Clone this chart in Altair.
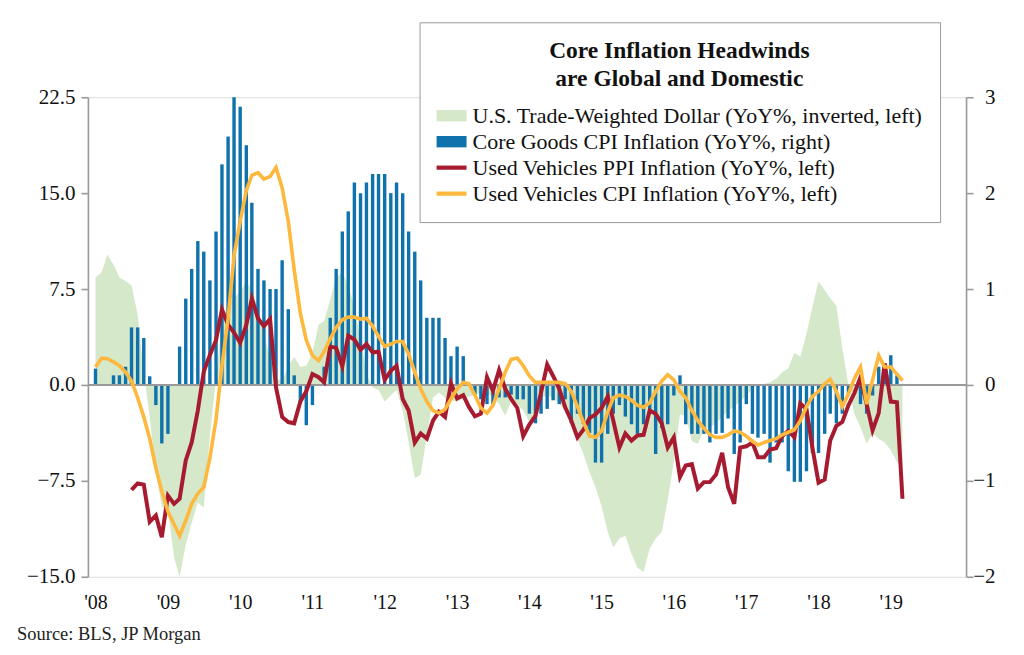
import altair as alt
import pandas as pd

# ---------------- data (monthly, Jan 2008 .. Mar 2019) ----------------
start_month = "2008-01-01"
n_months = 135

series_names = [
    "U.S. Trade-Weighted Dollar (YoY%, inverted, left)",
    "Core Goods CPI Inflation (YoY%, right)",
    "Used Vehicles PPI Inflation (YoY%, left)",
    "Used Vehicles CPI Inflation (YoY%, left)",
]
series_colors = ["#d5e8ca", "#0f72ad", "#a61b2f", "#fdb83d"]

left_ticks = [-15, -7.5, 0, 7.5, 15, 22.5]
right_ticks = [-2, -1, 0, 1, 2, 3]
year_ticks = list(range(2008, 2020))

core_goods = [
    0.17, 0.0, 0.0, 0.10, 0.10, 0.19, 0.60, 0.60, 0.49, 0.09, -0.21, -0.61,
    -0.51, 0.0, 0.40, 0.90, 1.21, 1.50, 1.39, 1.09, 1.60, 2.30, 2.59, 3.00,
    2.90, 2.50, 1.90, 1.21, 1.09, 1.00, 1.00, 1.30, 0.79, 0.10, -0.20, -0.42,
    -0.21, 0.0, 0.19, 0.70, 1.21, 1.60, 1.81, 2.11, 2.00, 2.11, 2.20, 2.20,
    2.20, 2.00, 2.11, 2.00, 1.60, 1.39, 1.09, 0.70, 0.70, 0.70, 0.49, 0.30,
    0.40, 0.30, 0.0, -0.10, -0.15, -0.20, -0.20, -0.13, -0.13, -0.10, -0.15, -0.15,
    -0.30, -0.40, -0.30, -0.25, -0.16, -0.20, -0.15, -0.40, -0.30, -0.41, -0.50, -0.81,
    -0.81, -0.51, -0.30, -0.21, -0.33, -0.41, -0.51, -0.41, -0.30, -0.72, -0.45, -0.41,
    -0.11, 0.10, -0.41, -0.51, -0.51, -0.51, -0.60, -0.51, -0.50, -0.35, -0.72, -0.60,
    -0.20, -0.51, -0.55, -0.51, -0.81, -0.60, -0.60, -0.90, -1.01, -1.01, -0.90, -0.71,
    -0.71, -0.51, -0.30, -0.40, -0.30, -0.09, 0.0, -0.20, -0.30, -0.11, 0.19, 0.19,
    0.31, 0.10, None,
]

dollar_inverted = [
    8.4, 8.8, 10.2, 9.4, 8.4, 8.1, 7.8, 5.5, 1.0, -2.5, -6.9, -9.5,
    -9.8, -13.5, -15.0, -12.5, -10.8, -9.2, -9.6, -4.0, 0.5, 5.0, 6.3, 6.8,
    7.3, 8.1, 7.5, 6.0, 4.0, 2.0, 0.5, 0.3, 1.5, 2.2, 1.4, 1.5,
    2.5, 4.7, 5.0, 6.7, 8.4, 8.8, 7.8, 6.1, 3.5, 0.9, -0.2, -0.4,
    -1.3, -0.8, -0.4, -2.0, -4.5, -7.3, -7.0, -4.0, -1.0, -0.6, -1.0, -1.2,
    -1.3, -1.1, -0.9, -0.8, -0.6, -0.7, -0.9, -1.5, -2.4, -1.3, -1.5, -2.0,
    -2.9, -2.0, -1.0, -0.8, -1.0, -1.5, -2.0, -3.0, -4.2, -5.4, -6.8, -8.0,
    -9.5, -11.5, -12.7, -12.0, -11.8, -13.2, -14.3, -14.6, -12.8, -12.0, -11.5, -9.0,
    -6.0, -2.3, -2.4, -4.4, -4.6, -3.5, -3.3, -3.0, -2.5, -2.0, -1.7, -1.3,
    -0.8, -0.3, 0.0, 0.1, 0.2, 0.5, 1.0, 1.3, 2.5, 2.2, 4.0, 6.1,
    8.1, 7.4, 6.8, 6.2, 2.9, 0.0, -2.3, -3.3, -4.6, -3.8, -4.2, -4.5,
    -5.1, -6.0, -6.4,
]

used_ppi = [
    None, None, None, None, None, None, -8.2, -7.7, -7.8, -10.7, -10.2, -11.9,
    -8.65, -9.3, -8.9, -5.9, -4.5, -2.0, 1.05, 2.35, 3.5, 5.9, 4.7, 4.1,
    3.3, 4.7, 6.75, 5.2, 4.6, 5.15, -0.2, -2.5, -2.9, -3.0, -1.3, -0.5,
    0.85, 0.6, 0.2, 3.0, 2.9, 1.45, 3.85, 3.55, 2.75, 3.2, 2.55, 2.6,
    0.4, 1.1, 1.5, -1.1, -2.0, -4.5, -3.8, -4.2, -2.8, -2.1, -2.5, 0.1,
    -1.05, -0.8, -1.7, -2.45, -2.25, 0.6, -0.45, 1.15, -0.3, -1.1, -1.8, -4.0,
    -3.1, -2.4, -0.6, 1.6, 0.7, -0.3, -1.75, -2.8, -4.1, -3.5, -2.6, -2.3,
    -1.8, -0.9, -2.8, -4.9, -3.8, -4.35, -3.95, -3.9, -2.0, -2.25, -3.0, -4.9,
    -4.1, -7.2, -6.3, -6.2, -8.1, -7.6, -7.6, -7.0, -5.3, -8.0, -9.3, -4.9,
    -4.8, -4.5, -5.65, -5.65, -5.05, -4.95, -4.0, -3.6, -4.1, -1.45, -1.9, -4.9,
    -7.65, -7.4, -4.35, -3.2, -2.9, -1.6, -0.65, 0.6, -1.5, -3.55, -2.2, 1.7,
    -1.3, -1.35, -8.9,
]

used_cpi = [
    1.4, 2.1, 2.05, 1.8, 1.5, 1.0, 0.3, -1.0, -2.5, -4.2, -6.5, -8.3,
    -9.9, -10.9, -11.8, -10.6, -9.3, -8.5, -8.0, -5.7, -2.7, 1.5, 5.2, 10.1,
    12.8, 15.2, 16.4, 16.6, 16.1, 16.3, 17.0, 15.4, 12.8, 9.0, 5.6, 3.5,
    2.3, 1.9, 2.6, 3.6, 4.5, 5.1, 5.3, 5.3, 5.15, 5.2, 4.6, 3.8,
    3.0, 3.2, 3.4, 3.4, 2.4, 1.0, -0.3, -1.3, -2.0, -2.2, -1.9, -1.1,
    -0.3, 0.2, 0.1, -0.8, -1.8, -2.2, -1.6, -0.3, 1.0, 2.0, 2.1, 1.5,
    0.7, 0.2, 0.2, 0.2, 0.2, 0.2, 0.1, -0.5, -1.7, -2.9, -4.0, -4.1,
    -3.6, -2.1, -1.0, -0.8, -0.9, -1.2, -1.6, -1.75, -1.4, -0.5, 0.3, 0.8,
    0.4, -0.5, -1.0, -2.0, -2.8, -3.4, -3.9, -4.1, -4.1, -3.9, -3.6, -3.7,
    -4.0, -4.4, -4.7, -4.5, -4.35, -4.2, -3.9, -3.7, -3.5, -2.8, -1.7, -0.9,
    -0.5, 0.1, 0.45, -0.5, -1.7, -0.7, 0.5, 1.4, -1.5, 0.4, 2.3, 1.4,
    1.4, 0.85, 0.35,
]

source_text = "Source:  BLS, JP Morgan"
legend_title = ["Core Inflation Headwinds", "are Global and Domestic"]

df = pd.DataFrame({
    "date": pd.date_range(start_month, periods=n_months, freq="MS"),
    "dollar": dollar_inverted,
    "core": core_goods,
    "ppi": used_ppi,
    "cpi": used_cpi,
})
zero_df = pd.DataFrame({"zero": [0]})

# ---------------- styling ----------------
FONT = "Liberation Serif"
AXIS_GRAY = "#9a9a9a"
LEFT_DOMAIN = [-15, 22.5]
RIGHT_DOMAIN = [-2, 3]

x_enc = alt.X(
    "date:T",
    title=None,
    scale=alt.Scale(domain=[alt.DateTime(year=2007, month=12, date=19),
                            alt.DateTime(year=2019, month=12, date=22)]),
    axis=alt.Axis(
        values=[alt.DateTime(year=y, month=1, date=1) for y in year_ticks],
        format="'%y", domain=False, ticks=False, grid=False,
        labelFont=FONT, labelFontSize=20, labelColor="#111",
        labelPadding=16,
    ),
)

def left_scale():
    return alt.Scale(domain=LEFT_DOMAIN, nice=False, zero=False)

base = alt.Chart(df)

area = base.mark_area(interpolate="linear").transform_calculate(
    series=f"'{series_names[0]}'"
).encode(
    x=x_enc,
    y=alt.Y(
        "dollar:Q", title=None, scale=left_scale(),
        axis=alt.Axis(
            orient="left", values=left_ticks, format=".1f", grid=False,
            domainColor=AXIS_GRAY, domainWidth=1.6, tickColor=AXIS_GRAY,
            tickWidth=1.6, tickSize=7, labelPadding=6,
            labelFont=FONT, labelFontSize=21, labelColor="#111",
        ),
    ),
    color=alt.Color(
        "series:N",
        scale=alt.Scale(domain=series_names, range=series_colors),
        legend=alt.Legend(
            title=legend_title, orient="none", legendX=332, legendY=-75,
            direction="vertical",
            titleFont=FONT, titleFontSize=23.5, titleFontWeight="bold",
            titleColor="#111", titleAnchor="middle", titleAlign="center",
            titleLineHeight=28, titlePadding=10, titleLimit=800,
            labelFont=FONT, labelFontSize=22, labelColor="#111",
            labelLimit=800, labelOffset=6,
            symbolType=alt.ExprRef(
                expr="indexof(datum.value, 'Vehicles') >= 0 ? "
                     "'M-1,-0.14H1V0.14H-1Z' : 'M-1,-0.38H1V0.38H-1Z'"),
            symbolSize=900, symbolStrokeWidth=0, symbolOpacity=1,
            rowPadding=-0.5, padding=17,
            strokeColor=AXIS_GRAY, fillColor="white",
        ),
    ),
)

bars = base.mark_bar(size=3.4, color=series_colors[1]).encode(
    x=x_enc,
    y=alt.Y(
        "core:Q", title=None,
        scale=alt.Scale(domain=RIGHT_DOMAIN, nice=False),
        axis=alt.Axis(
            orient="right", values=right_ticks, format="d", grid=False,
            domainColor=AXIS_GRAY, domainWidth=1.6, tickColor=AXIS_GRAY,
            tickWidth=1.6, tickSize=7, labelPadding=22, labelAlign="right",
            labelFont=FONT, labelFontSize=21, labelColor="#111",
        ),
    ),
)

zero_rule = alt.Chart(zero_df).mark_rule(color=AXIS_GRAY, strokeWidth=2).encode(
    y=alt.Y("zero:Q", scale=left_scale(), axis=None),
)

ppi_line = base.mark_line(color=series_colors[2], strokeWidth=4).encode(
    x=x_enc,
    y=alt.Y("ppi:Q", scale=left_scale(), axis=None),
)

cpi_line = base.mark_line(color=series_colors[3], strokeWidth=3.6).encode(
    x=x_enc,
    y=alt.Y("cpi:Q", scale=left_scale(), axis=None),
)

chart = (
    alt.layer(area, bars, zero_rule, ppi_line, cpi_line)
    .resolve_scale(y="independent")
    .properties(
        width=879, height=480,
        autosize=alt.AutoSizeParams(type="none"),
        padding={"left": 80, "top": 89, "right": 50, "bottom": 70},
        title=alt.TitleParams(
            text=source_text, orient="bottom", anchor="start", frame="group",
            dx=-71, offset=12, font=FONT, fontSize=18.5, fontWeight="normal",
            color="#222",
        ),
    )
    .configure_view(stroke=None)
    .configure_legend(strokeWidth=2)
    .configure(background="white")
)

chart.save("out.html", embed_options={"renderer": "svg", "actions": False})
